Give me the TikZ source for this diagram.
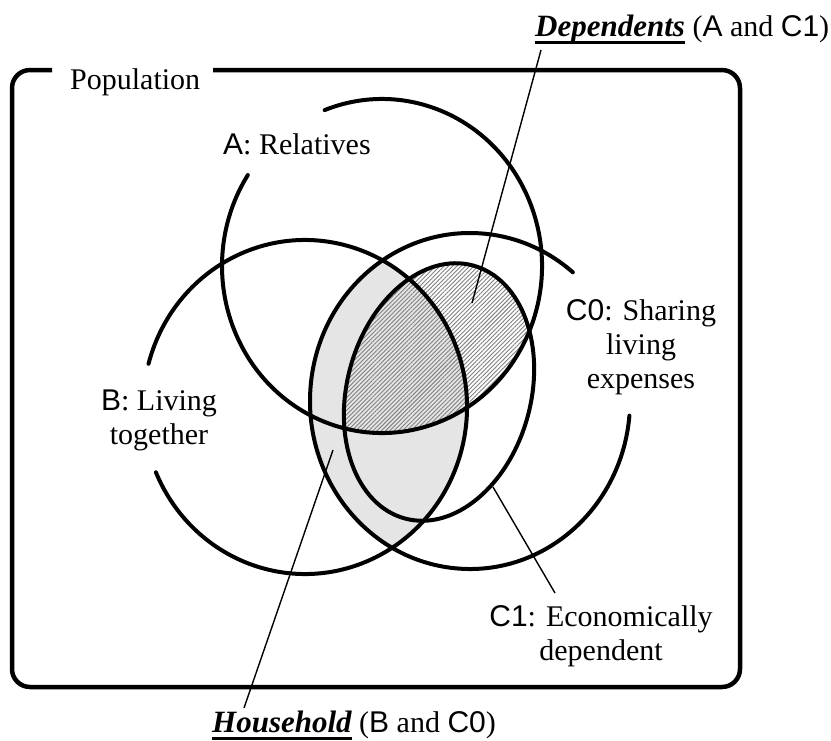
\documentclass[tikz,border=0pt]{standalone}
\usepackage{fontspec}
\setmainfont{Liberation Serif}
\newfontfamily\arialf{Liberation Sans}
\usetikzlibrary{patterns.meta}
\newcommand\sfl[1]{{\arialf #1}}
\newcommand\ulbi[1]{{\fontsize{31}{34}\selectfont\bfseries\itshape\setbox0\hbox{#1}\rlap{\rule[-7.5pt]{\wd0}{2.6pt}}\box0}}
\tikzset{
  setline/.style={line width=4pt, line cap=round},
  boxline/.style={line width=4.5pt, rounded corners=18pt},
  leader/.style={line width=1.4pt},
  lbl/.style={inner sep=0pt, font=\fontsize{30}{34}\selectfont},
  mlbl/.style={lbl, align=center, anchor=north},
  hhfill/.style={fill=black!10},
  depfill/.style={pattern={Lines[angle=45,distance=3pt,line width=0.9pt]}, pattern color=black!50},
}
\begin{document}
\begin{tikzpicture}[x=1pt,y=-1pt]
\useasboundingbox (0,0) rectangle (831,740);
\fill[white] (0,0) rectangle (831,740);
% centres
\coordinate (A) at (382,266);
\coordinate (B) at (305,407);
\coordinate (C0) at (470,401);
\coordinate (C1) at (439,392);
% Household: B and C0
\begin{scope}
  \clip (B) ellipse [x radius=162, y radius=167];
  \fill[hhfill] (C0) ellipse [x radius=160, y radius=168];
\end{scope}
% Dependents: A and C1
\begin{scope}
  \clip (A) ellipse [x radius=160, y radius=167];
  \fill[depfill, rotate around={-15:(C1)}] (C1) ellipse [x radius=92, y radius=131];
\end{scope}
% outlines
\draw[setline] ([shift={(249:160 and 167)}]A) arc[start angle=249, end angle=573, x radius=160, y radius=167];
\draw[setline] ([shift={(195:162 and 167)}]B) arc[start angle=195, end angle=517, x radius=162, y radius=167];
\draw[setline] ([shift={(5:160 and 168)}]C0) arc[start angle=5, end angle=310, x radius=160, y radius=168];
\draw[setline, rotate around={-15:(C1)}] (C1) ellipse [x radius=92, y radius=131];
% population box
\draw[boxline] (213,70) -- (740,70) -- (740,687) -- (12,687) -- (12,70) -- (52,70);
% labels
\node[lbl, anchor=base west] (pop) at (70,89.3) {Population};
\node[lbl, anchor=base west] (labA) at (223,154) {\sfl{A}: Relatives};
\node[mlbl] (labB) at (159,389.5) {\sfl{B}: Living\\together};
\node[mlbl] (labC0) at (641,299) {\sfl{C0}: Sharing\\living\\expenses};
\node[mlbl] (labC1) at (601,605) {\sfl{C1}: Economically\\dependent};
\node[lbl, anchor=base west] (dep) at (535,36.5) {\ulbi{Dependents} (\sfl{A} and \sfl{C1})};
\node[lbl, anchor=base west] (hh) at (212,732) {\ulbi{Household} (\sfl{B} and \sfl{C0})};
% leaders
\coordinate (depTop) at (541,50);
\coordinate (depEnd) at (472,303);
\coordinate (hhTop) at (333,450);
\coordinate (hhEnd) at (244,708);
\coordinate (c1Top) at (493,487);
\coordinate (c1End) at (555,593);
\draw[leader] (depTop) -- (depEnd);
\draw[leader] (hhEnd) -- (hhTop);
\draw[leader] (c1End) -- (c1Top);
\end{tikzpicture}
\end{document}
